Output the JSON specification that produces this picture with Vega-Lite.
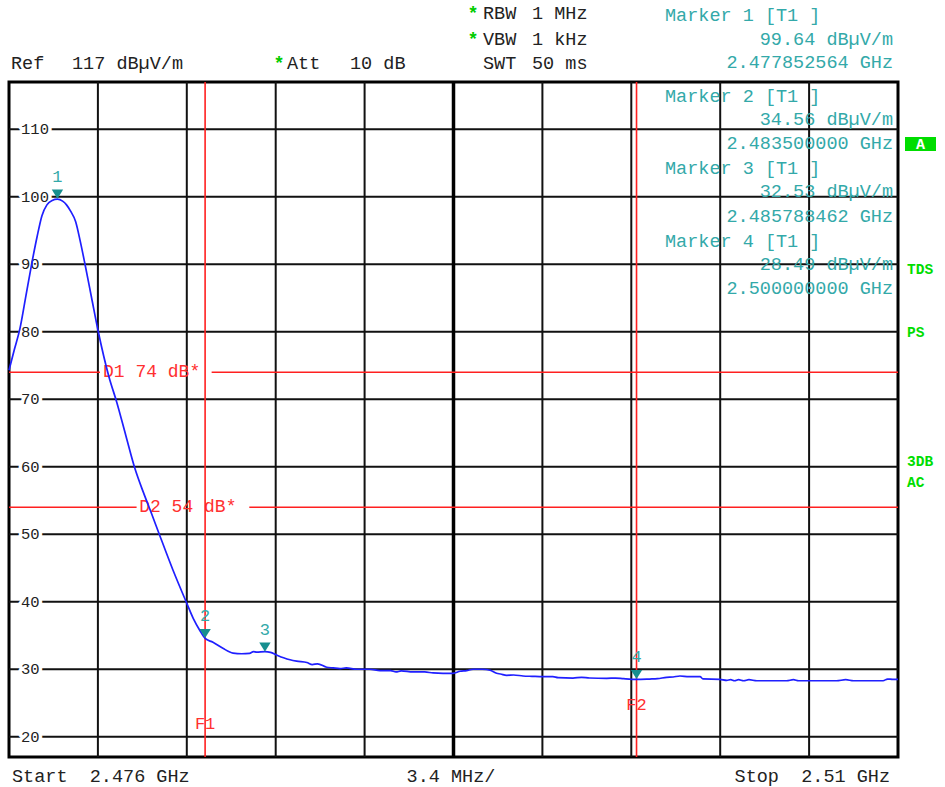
{
  "$schema": "https://vega.github.io/schema/vega-lite/v6.json",
  "width": 889,
  "height": 675,
  "autosize": "none",
  "padding": {"left": 9, "top": 82, "right": 47, "bottom": 30},
  "background": "white",
  "config": {
    "view": {"stroke": "#000", "strokeWidth": 3},
    "axis": {"disable": true},
    "text": {"font": "Liberation Mono", "baseline": "middle"}
  },
  "datasets": {
    "levels": [{"v": 20}, {"v": 30}, {"v": 40}, {"v": 50}, {"v": 60}, {"v": 70}, {"v": 80}, {"v": 90}, {"v": 100}, {"v": 110}],
    "freqgrid": [{"f": 2479.4}, {"f": 2482.8}, {"f": 2486.2}, {"f": 2489.6}, {"f": 2496.4}, {"f": 2499.8}, {"f": 2503.2}, {"f": 2506.6}],
    "limits": [
      {"name": "D1", "level": 74, "label": "D1 74 dB*", "f": 2479.595},
      {"name": "D2", "level": 54, "label": "D2 54 dB*", "f": 2480.98}
    ],
    "limitSegments": [
      {"name": "D1", "level": 74, "from": 2476.0, "to": 2479.48},
      {"name": "D1", "level": 74, "from": 2483.75, "to": 2510.0},
      {"name": "D2", "level": 54, "from": 2476.0, "to": 2480.88},
      {"name": "D2", "level": 54, "from": 2485.19, "to": 2510.0}
    ],
    "flines": [
      {"name": "F1", "f": 2483.5, "lv": 21.89},
      {"name": "F2", "f": 2500.0, "lv": 24.7}
    ],
    "markers": [
      {"n": "1", "f": 2477.852564, "v": 99.64},
      {"n": "2", "f": 2483.5, "v": 34.56},
      {"n": "3", "f": 2485.788462, "v": 32.53},
      {"n": "4", "f": 2500.0, "v": 28.49}
    ],
    "trace": [
      {"f": 2476.0, "v": 74.3}, {"f": 2476.2, "v": 77.3}, {"f": 2476.42, "v": 80.5}, {"f": 2476.65, "v": 85.4},
      {"f": 2476.87, "v": 90.1}, {"f": 2477.07, "v": 94.0}, {"f": 2477.26, "v": 97.2}, {"f": 2477.45, "v": 98.8},
      {"f": 2477.65, "v": 99.45}, {"f": 2477.853, "v": 99.64}, {"f": 2478.05, "v": 99.35}, {"f": 2478.2, "v": 98.8},
      {"f": 2478.35, "v": 97.9}, {"f": 2478.55, "v": 96.3}, {"f": 2478.72, "v": 93.5}, {"f": 2478.907, "v": 90.0},
      {"f": 2479.16, "v": 85.0}, {"f": 2479.415, "v": 80.0}, {"f": 2479.824, "v": 73.3}, {"f": 2480.118, "v": 69.6},
      {"f": 2480.47, "v": 64.6}, {"f": 2480.819, "v": 59.7}, {"f": 2481.14, "v": 56.2}, {"f": 2481.458, "v": 53.0},
      {"f": 2481.748, "v": 50.0}, {"f": 2482.27, "v": 44.7}, {"f": 2482.796, "v": 39.8}, {"f": 2483.05, "v": 37.5},
      {"f": 2483.305, "v": 35.7}, {"f": 2483.5, "v": 34.56}, {"f": 2483.8, "v": 34.0}, {"f": 2484.18, "v": 33.1},
      {"f": 2484.57, "v": 32.4}, {"f": 2484.9, "v": 32.3}, {"f": 2485.2, "v": 32.35}, {"f": 2485.35, "v": 32.6},
      {"f": 2485.47, "v": 32.55}, {"f": 2485.79, "v": 32.6}, {"f": 2486.0, "v": 32.5}, {"f": 2486.24, "v": 32.1},
      {"f": 2486.5, "v": 31.7}, {"f": 2486.75, "v": 31.4}, {"f": 2487.0, "v": 31.2}, {"f": 2487.39, "v": 31.0},
      {"f": 2487.6, "v": 30.7}, {"f": 2487.8, "v": 30.8}, {"f": 2488.15, "v": 30.3}, {"f": 2488.4, "v": 30.2},
      {"f": 2488.66, "v": 30.1}, {"f": 2488.9, "v": 30.2}, {"f": 2489.3, "v": 30.0}, {"f": 2489.8, "v": 30.0},
      {"f": 2490.19, "v": 29.8}, {"f": 2490.6, "v": 29.8}, {"f": 2490.8, "v": 29.6}, {"f": 2491.0, "v": 29.75},
      {"f": 2491.45, "v": 29.6}, {"f": 2491.9, "v": 29.6}, {"f": 2492.22, "v": 29.45}, {"f": 2492.6, "v": 29.4},
      {"f": 2492.98, "v": 29.4}, {"f": 2493.25, "v": 29.7}, {"f": 2493.5, "v": 29.8}, {"f": 2493.75, "v": 30.0},
      {"f": 2494.1, "v": 30.0}, {"f": 2494.4, "v": 29.85}, {"f": 2494.65, "v": 29.4}, {"f": 2494.8, "v": 29.3},
      {"f": 2495.03, "v": 29.1}, {"f": 2495.3, "v": 29.15}, {"f": 2495.66, "v": 29.0}, {"f": 2496.0, "v": 28.95},
      {"f": 2496.42, "v": 28.9}, {"f": 2496.8, "v": 28.9}, {"f": 2497.0, "v": 28.75}, {"f": 2497.57, "v": 28.7},
      {"f": 2497.9, "v": 28.8}, {"f": 2498.2, "v": 28.7}, {"f": 2498.86, "v": 28.66}, {"f": 2499.2, "v": 28.7},
      {"f": 2499.5, "v": 28.6}, {"f": 2500.0, "v": 28.49}, {"f": 2500.5, "v": 28.55}, {"f": 2500.8, "v": 28.6},
      {"f": 2501.15, "v": 28.8}, {"f": 2501.4, "v": 28.85}, {"f": 2501.66, "v": 29.0}, {"f": 2502.0, "v": 28.9},
      {"f": 2502.43, "v": 28.9}, {"f": 2502.54, "v": 28.56}, {"f": 2503.19, "v": 28.5}, {"f": 2503.45, "v": 28.35},
      {"f": 2503.6, "v": 28.45}, {"f": 2503.75, "v": 28.3}, {"f": 2503.9, "v": 28.45}, {"f": 2504.1, "v": 28.3},
      {"f": 2504.3, "v": 28.45}, {"f": 2504.6, "v": 28.3}, {"f": 2505.0, "v": 28.3}, {"f": 2505.74, "v": 28.3},
      {"f": 2506.0, "v": 28.45}, {"f": 2506.2, "v": 28.3}, {"f": 2507.0, "v": 28.3}, {"f": 2507.65, "v": 28.3},
      {"f": 2508.0, "v": 28.45}, {"f": 2508.3, "v": 28.3}, {"f": 2509.43, "v": 28.3}, {"f": 2509.6, "v": 28.55},
      {"f": 2509.8, "v": 28.5}, {"f": 2510.0, "v": 28.5}
    ],
    "ann": [
      {"t": "Ref", "f": 2476.076, "v": 119.84, "g": "hdr"},
      {"t": "117 dBµV/m", "f": 2478.409, "v": 119.84, "g": "hdr"},
      {"t": "Att", "f": 2486.632, "v": 119.84, "g": "hdr"},
      {"t": "10 dB", "f": 2489.042, "v": 119.84, "g": "hdr"},
      {"t": "RBW", "f": 2494.128, "v": 127.25, "g": "hdr"},
      {"t": "1 MHz", "f": 2496.002, "v": 127.25, "g": "hdr"},
      {"t": "VBW", "f": 2494.128, "v": 123.4, "g": "hdr"},
      {"t": "1 kHz", "f": 2496.002, "v": 123.4, "g": "hdr"},
      {"t": "SWT", "f": 2494.128, "v": 119.84, "g": "hdr"},
      {"t": "50 ms", "f": 2496.002, "v": 119.84, "g": "hdr"},
      {"t": "*", "f": 2486.326, "v": 119.84, "g": "star"},
      {"t": "*", "f": 2493.745, "v": 127.25, "g": "star"},
      {"t": "*", "f": 2493.745, "v": 123.4, "g": "star"},
      {"t": "Marker 1 [T1 ]", "f": 2501.089, "v": 126.93, "g": "mk"},
      {"t": "Marker 2 [T1 ]", "f": 2501.089, "v": 114.93, "g": "mk"},
      {"t": "Marker 3 [T1 ]", "f": 2501.089, "v": 104.26, "g": "mk"},
      {"t": "Marker 4 [T1 ]", "f": 2501.089, "v": 93.44, "g": "mk"},
      {"t": "99.64 dBµV/m", "f": 2509.809, "v": 123.37, "g": "mkv"},
      {"t": "2.477852564 GHz", "f": 2509.809, "v": 119.96, "g": "mkv"},
      {"t": "34.56 dBµV/m", "f": 2509.809, "v": 111.52, "g": "mkv"},
      {"t": "2.483500000 GHz", "f": 2509.809, "v": 107.96, "g": "mkv"},
      {"t": "32.53 dBµV/m", "f": 2509.809, "v": 100.85, "g": "mkv"},
      {"t": "2.485788462 GHz", "f": 2509.809, "v": 97.15, "g": "mkv"},
      {"t": "28.49 dBµV/m", "f": 2509.809, "v": 90.04, "g": "mkv"},
      {"t": "2.500000000 GHz", "f": 2509.809, "v": 86.48, "g": "mkv"},
      {"t": "Start\u00a0\u00a02.476 GHz", "f": 2476.115, "v": 14.19, "g": "footL"},
      {"t": "3.4 MHz/", "f": 2492.904, "v": 14.19, "g": "footC"},
      {"t": "Stop\u00a0\u00a02.51 GHz", "f": 2509.694, "v": 14.19, "g": "footR"},
      {"t": "TDS", "f": 2510.344, "v": 89.15, "g": "side"},
      {"t": "PS", "f": 2510.344, "v": 79.81, "g": "side"},
      {"t": "3DB", "f": 2510.344, "v": 60.7, "g": "side"},
      {"t": "AC", "f": 2510.344, "v": 57.6, "g": "side"}
    ]
  },
  "layer": [
    {
      "data": {"name": "levels"},
      "mark": {"type": "rule", "color": "#111", "strokeWidth": 2},
      "encoding": {"y": {"field": "v", "type": "quantitative", "scale": {"domain": [17, 117], "nice": false, "zero": false}}}
    },
    {
      "data": {"name": "freqgrid"},
      "mark": {"type": "rule", "color": "#111", "strokeWidth": 2},
      "encoding": {"x": {"field": "f", "type": "quantitative", "scale": {"domain": [2476, 2510], "nice": false, "zero": false}}}
    },
    {
      "data": {"values": [{"f": 2493.0}]},
      "mark": {"type": "rule", "color": "#000", "strokeWidth": 3.5},
      "encoding": {"x": {"field": "f", "type": "quantitative", "scale": {"domain": [2476, 2510], "nice": false, "zero": false}}}
    },
    {
      "data": {"name": "limitSegments"},
      "mark": {"type": "rule", "color": "#ff2020", "strokeWidth": 1.6},
      "encoding": {
        "x": {"field": "from", "type": "quantitative", "scale": {"domain": [2476, 2510], "nice": false, "zero": false}},
        "x2": {"field": "to"},
        "y": {"field": "level", "type": "quantitative", "scale": {"domain": [17, 117], "nice": false, "zero": false}}
      }
    },
    {
      "data": {"name": "levels"},
      "mark": {"type": "text", "align": "left", "fontSize": 15.5, "color": "white", "stroke": "white", "strokeWidth": 7, "strokeJoin": "round"},
      "encoding": {
        "x": {"datum": 2476.46, "type": "quantitative", "scale": {"domain": [2476, 2510], "nice": false, "zero": false}},
        "y": {"field": "v", "type": "quantitative", "scale": {"domain": [17, 117], "nice": false, "zero": false}},
        "text": {"field": "v", "type": "nominal"}
      }
    },
    {
      "data": {"name": "levels"},
      "mark": {"type": "text", "align": "left", "fontSize": 15.5, "color": "#222"},
      "encoding": {
        "x": {"datum": 2476.46, "type": "quantitative", "scale": {"domain": [2476, 2510], "nice": false, "zero": false}},
        "y": {"field": "v", "type": "quantitative", "scale": {"domain": [17, 117], "nice": false, "zero": false}},
        "text": {"field": "v", "type": "nominal"}
      }
    },
    {
      "data": {"name": "limits"},
      "mark": {"type": "text", "align": "left", "fontSize": 18, "color": "#ff3030"},
      "encoding": {
        "x": {"field": "f", "type": "quantitative", "scale": {"domain": [2476, 2510], "nice": false, "zero": false}},
        "y": {"field": "level", "type": "quantitative", "scale": {"domain": [17, 117], "nice": false, "zero": false}},
        "text": {"field": "label", "type": "nominal"}
      }
    },
    {
      "data": {"name": "flines"},
      "mark": {"type": "rule", "color": "#ff2020", "strokeWidth": 1.6},
      "encoding": {"x": {"field": "f", "type": "quantitative", "scale": {"domain": [2476, 2510], "nice": false, "zero": false}}}
    },
    {
      "data": {"name": "flines"},
      "mark": {"type": "text", "align": "center", "fontSize": 17, "color": "#ff3030"},
      "encoding": {
        "x": {"field": "f", "type": "quantitative", "scale": {"domain": [2476, 2510], "nice": false, "zero": false}},
        "y": {"field": "lv", "type": "quantitative", "scale": {"domain": [17, 117], "nice": false, "zero": false}},
        "text": {"field": "name", "type": "nominal"}
      }
    },
    {
      "data": {"name": "trace"},
      "mark": {"type": "line", "color": "#1f1fff", "strokeWidth": 1.7, "interpolate": "monotone"},
      "encoding": {
        "x": {"field": "f", "type": "quantitative", "scale": {"domain": [2476, 2510], "nice": false, "zero": false}},
        "y": {"field": "v", "type": "quantitative", "scale": {"domain": [17, 117], "nice": false, "zero": false}}
      }
    },
    {
      "data": {"name": "markers"},
      "mark": {"type": "point", "shape": "M-1,-0.8L1,-0.8L0,0.8Z", "filled": true, "size": 130, "color": "#178f8f", "opacity": 1, "yOffset": -5},
      "encoding": {
        "x": {"field": "f", "type": "quantitative", "scale": {"domain": [2476, 2510], "nice": false, "zero": false}},
        "y": {"field": "v", "type": "quantitative", "scale": {"domain": [17, 117], "nice": false, "zero": false}}
      }
    },
    {
      "data": {"name": "markers"},
      "mark": {"type": "text", "align": "center", "fontSize": 17, "color": "#33a9a9", "yOffset": -22},
      "encoding": {
        "x": {"field": "f", "type": "quantitative", "scale": {"domain": [2476, 2510], "nice": false, "zero": false}},
        "y": {"field": "v", "type": "quantitative", "scale": {"domain": [17, 117], "nice": false, "zero": false}},
        "text": {"field": "n", "type": "nominal"}
      }
    },
    {
      "data": {"name": "ann"},
      "transform": [{"filter": "datum.g === 'hdr' || datum.g === 'footL'"}],
      "mark": {"type": "text", "align": "left", "fontSize": 18.5, "color": "#222"},
      "encoding": {
        "x": {"field": "f", "type": "quantitative", "scale": {"domain": [2476, 2510], "nice": false, "zero": false}},
        "y": {"field": "v", "type": "quantitative", "scale": {"domain": [17, 117], "nice": false, "zero": false}},
        "text": {"field": "t", "type": "nominal"}
      }
    },
    {
      "data": {"name": "ann"},
      "transform": [{"filter": "datum.g === 'footC'"}],
      "mark": {"type": "text", "align": "center", "fontSize": 18.5, "color": "#222"},
      "encoding": {
        "x": {"field": "f", "type": "quantitative", "scale": {"domain": [2476, 2510], "nice": false, "zero": false}},
        "y": {"field": "v", "type": "quantitative", "scale": {"domain": [17, 117], "nice": false, "zero": false}},
        "text": {"field": "t", "type": "nominal"}
      }
    },
    {
      "data": {"name": "ann"},
      "transform": [{"filter": "datum.g === 'footR'"}],
      "mark": {"type": "text", "align": "right", "fontSize": 18.5, "color": "#222"},
      "encoding": {
        "x": {"field": "f", "type": "quantitative", "scale": {"domain": [2476, 2510], "nice": false, "zero": false}},
        "y": {"field": "v", "type": "quantitative", "scale": {"domain": [17, 117], "nice": false, "zero": false}},
        "text": {"field": "t", "type": "nominal"}
      }
    },
    {
      "data": {"name": "ann"},
      "transform": [{"filter": "datum.g === 'star'"}],
      "mark": {"type": "text", "align": "center", "fontSize": 18.5, "fontWeight": "bold", "color": "#00cc00"},
      "encoding": {
        "x": {"field": "f", "type": "quantitative", "scale": {"domain": [2476, 2510], "nice": false, "zero": false}},
        "y": {"field": "v", "type": "quantitative", "scale": {"domain": [17, 117], "nice": false, "zero": false}},
        "text": {"field": "t", "type": "nominal"}
      }
    },
    {
      "data": {"name": "ann"},
      "transform": [{"filter": "datum.g === 'mk'"}],
      "mark": {"type": "text", "align": "left", "fontSize": 18.5, "color": "#33a9a9"},
      "encoding": {
        "x": {"field": "f", "type": "quantitative", "scale": {"domain": [2476, 2510], "nice": false, "zero": false}},
        "y": {"field": "v", "type": "quantitative", "scale": {"domain": [17, 117], "nice": false, "zero": false}},
        "text": {"field": "t", "type": "nominal"}
      }
    },
    {
      "data": {"name": "ann"},
      "transform": [{"filter": "datum.g === 'mkv'"}],
      "mark": {"type": "text", "align": "right", "fontSize": 18.5, "color": "#33a9a9"},
      "encoding": {
        "x": {"field": "f", "type": "quantitative", "scale": {"domain": [2476, 2510], "nice": false, "zero": false}},
        "y": {"field": "v", "type": "quantitative", "scale": {"domain": [17, 117], "nice": false, "zero": false}},
        "text": {"field": "t", "type": "nominal"}
      }
    },
    {
      "data": {"name": "ann"},
      "transform": [{"filter": "datum.g === 'side'"}],
      "mark": {"type": "text", "align": "left", "fontSize": 14.5, "fontWeight": "bold", "color": "#00dd00"},
      "encoding": {
        "x": {"field": "f", "type": "quantitative", "scale": {"domain": [2476, 2510], "nice": false, "zero": false}},
        "y": {"field": "v", "type": "quantitative", "scale": {"domain": [17, 117], "nice": false, "zero": false}},
        "text": {"field": "t", "type": "nominal"}
      }
    },
    {
      "data": {"values": [{"label": "A", "f1": 2510.268, "f2": 2511.453, "v1": 108.85, "v2": 106.78, "fc": 2510.86, "vc": 107.85}]},
      "layer": [
        {
          "mark": {"type": "rect", "color": "#00dd00"},
          "encoding": {
            "x": {"field": "f1", "type": "quantitative", "scale": {"domain": [2476, 2510], "nice": false, "zero": false}},
            "x2": {"field": "f2"},
            "y": {"field": "v1", "type": "quantitative", "scale": {"domain": [17, 117], "nice": false, "zero": false}},
            "y2": {"field": "v2"}
          }
        },
        {
          "mark": {"type": "text", "align": "center", "fontSize": 15, "fontWeight": "bold", "color": "white"},
          "encoding": {
            "x": {"field": "fc", "type": "quantitative", "scale": {"domain": [2476, 2510], "nice": false, "zero": false}},
            "y": {"field": "vc", "type": "quantitative", "scale": {"domain": [17, 117], "nice": false, "zero": false}},
            "text": {"field": "label", "type": "nominal"}
          }
        }
      ]
    }
  ]
}
